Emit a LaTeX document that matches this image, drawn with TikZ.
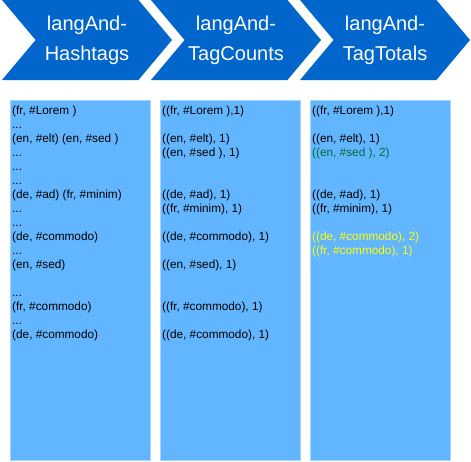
\documentclass[tikz,border=0pt]{standalone}
\usepackage{fontspec}
\setmainfont{Liberation Sans}
\usetikzlibrary{shapes.symbols,positioning}

\definecolor{stageblue}{HTML}{0066CC}
\definecolor{colblue}{HTML}{62B6FF}
\definecolor{coledge}{HTML}{A6D4FF}
\definecolor{sumgreen}{HTML}{006B3A}
\definecolor{sumyellow}{HTML}{FFFF00}

\begin{document}
\begin{tikzpicture}[
  x=1pt, y=1pt,
  stage/.style={
    signal,
    signal from=west,
    signal to=east,
    signal pointer angle=100,
    fill=stageblue,
    text=white,
    minimum width=170pt,
    minimum height=80pt,
    inner sep=0pt,
    align=center,
    font=\fontsize{20}{30}\selectfont
  },
  column/.style={
    draw=coledge,
    fill=colblue,
    line width=0.8pt,
    minimum width=140pt,
    minimum height=360pt,
    inner sep=0pt,
    anchor=north west
  },
  listing/.style={
    anchor=north west,
    inner sep=0pt,
    align=left,
    font=\fontsize{11.8}{14}\selectfont
  }
]
\useasboundingbox (0,0) rectangle (471,-461);

\node[stage] (hash) at (87,-40) {langAnd-\\Hashtags};
\node[stage] (counts) at (236,-40) {langAnd-\\TagCounts};
\node[stage] (totals) at (385,-40) {langAnd-\\TagTotals};

\node[column] (hashcol) at (10,-100) {};
\node[column] (countcol) at (160,-100) {};
\node[column] (totalcol) at (310,-100) {};

\node[listing] (hashlist) at ([shift={(2,-4)}]hashcol.north west) {\strut(fr, \#Lorem )\\
...\\
(en, \#elt) (en, \#sed )\\
...\\
...\\
...\\
(de, \#ad) (fr, \#minim)\\
...\\
...\\
(de, \#commodo)\\
...\\
(en, \#sed)\\
\mbox{}\\
...\\
(fr, \#commodo)\\
...\\
(de, \#commodo)};

\node[listing] (countlist) at ([shift={(2,-4)}]countcol.north west) {\strut((fr, \#Lorem ),1)\\
\mbox{}\\
((en, \#elt), 1)\\
((en, \#sed ), 1)\\
\mbox{}\\
\mbox{}\\
((de, \#ad), 1)\\
((fr, \#minim), 1)\\
\mbox{}\\
((de, \#commodo), 1)\\
\mbox{}\\
((en, \#sed), 1)\\
\mbox{}\\
\mbox{}\\
((fr, \#commodo), 1)\\
\mbox{}\\
((de, \#commodo), 1)};

\node[listing] (totallist) at ([shift={(2,-4)}]totalcol.north west) {\strut((fr, \#Lorem ),1)\\
\mbox{}\\
((en, \#elt), 1)\\
\textcolor{sumgreen}{((en, \#sed ), 2)}\\
\mbox{}\\
\mbox{}\\
((de, \#ad), 1)\\
((fr, \#minim), 1)\\
\mbox{}\\
\textcolor{sumyellow}{((de, \#commodo), 2)}\\
\textcolor{sumyellow}{((fr, \#commodo), 1)}};
\end{tikzpicture}
\end{document}
